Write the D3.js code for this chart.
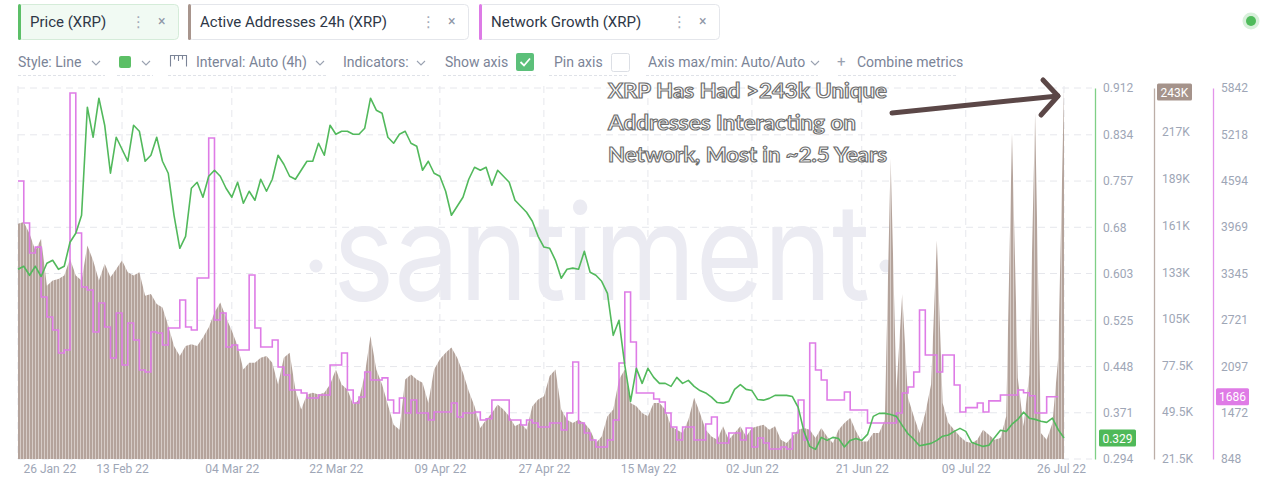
<!DOCTYPE html>
<html><head><meta charset="utf-8">
<script src="https://cdn.jsdelivr.net/npm/d3@7"></script>
<style>
html,body{margin:0;padding:0;background:#fff;}
svg{display:block;font-family:Roboto,"Noto Sans",sans-serif;}
</style></head><body>
<svg id="chart" width="1280" height="487"></svg>
<script>
// ---------- DATA ----------
const startDate = "2022-01-26";
const endDate = "2022-07-26";
// Price (XRP), daily
const priceValues = [
0.61,0.615,0.60,0.615,0.598,0.62,0.625,0.61,0.615,0.655,
0.67,0.70,0.88,0.83,0.895,0.85,0.77,0.83,0.81,0.79,
0.85,0.84,0.79,0.80,0.83,0.79,0.77,0.70,0.645,0.665,
0.745,0.755,0.73,0.765,0.775,0.765,0.745,0.73,0.755,0.72,
0.74,0.725,0.76,0.74,0.76,0.80,0.785,0.765,0.76,0.775,
0.79,0.79,0.82,0.80,0.85,0.835,0.84,0.84,0.835,0.835,
0.845,0.895,0.875,0.87,0.83,0.82,0.835,0.84,0.82,0.815,
0.775,0.79,0.77,0.765,0.74,0.70,0.715,0.73,0.76,0.78,
0.775,0.78,0.75,0.775,0.765,0.755,0.725,0.715,0.705,0.69,
0.665,0.647,0.645,0.625,0.595,0.61,0.612,0.61,0.64,0.605,
0.60,0.59,0.57,0.50,0.525,0.45,0.39,0.445,0.42,0.445,
0.43,0.42,0.42,0.415,0.43,0.42,0.425,0.415,0.408,0.404,
0.397,0.388,0.387,0.39,0.41,0.418,0.41,0.408,0.393,0.392,
0.395,0.40,0.40,0.40,0.398,0.38,0.34,0.315,0.31,0.33,
0.325,0.33,0.328,0.314,0.325,0.328,0.325,0.335,0.365,0.37,
0.37,0.368,0.365,0.35,0.336,0.327,0.316,0.318,0.32,0.325,
0.332,0.334,0.34,0.345,0.34,0.322,0.318,0.315,0.317,0.33,
0.342,0.34,0.352,0.36,0.372,0.362,0.36,0.357,0.355,0.362,
0.343,0.329];
// Active Addresses 24h (XRP), thousands, daily
const activeAddressesK = [
162,163,156,146,153,125,128,129,131,141,
131,128,149,140,128,138,130,135,140,133,
131,133,119,120,114,112,101,89,83,89,
90,89,94,100,109,115,106,98,89,75,
79,79,82,83,79,66,82,85,63,51,
60,61,60,61,66,75,66,63,54,57,
72,95,75,66,54,42,39,69,72,69,
67,55,75,81,85,88,82,73,62,53,
40,45,49,54,51,47,41,43,39,53,
57,59,71,75,51,45,43,45,43,39,
31,35,47,51,69,75,55,53,49,47,
55,55,51,41,39,37,45,58,49,39,
35,33,41,33,37,41,35,40,41,42,
39,41,33,31,35,39,40,39,34,40,
35,31,39,43,46,38,32,32,37,37,
45,201,62,120,58,47,37,49,66,152,
55,43,39,35,32,31,33,39,36,33,
34,47,216,70,41,72,228,37,33,43,
82,243];
// Network Growth (XRP), daily
const networkGrowth = [
4590,4025,3621,3700,3029,2760,2585,2275,2315,5775,
3890,3163,3123,2557,2948,2625,2207,2813,2113,2679,
2450,2046,2019,2557,2544,2382,2611,2611,2988,2625,
2585,3284,3284,5169,2719,2813,2355,2382,2315,2315,
3325,2611,2355,2355,2450,2086,1979,1777,1777,1736,
1669,1669,1709,1709,2113,2113,2275,1777,1602,1683,
2019,1911,1911,1940,1642,1467,1669,1467,1642,1467,
1467,1373,1480,1480,1480,1602,1413,1467,1467,1480,
1373,1390,1642,1642,1642,1373,1373,1306,1373,1333,
1279,1279,1333,1333,1238,1467,2154,1333,1198,1104,
1010,1010,1104,1373,2140,3096,2423,1736,1736,1736,
1655,1615,1467,1279,1104,1279,1279,1104,1104,1320,
1413,1063,1063,1198,1198,1104,1265,1010,1130,1063,
983,983,1010,983,1198,1642,1104,2409,2046,1911,
1642,1642,1642,1750,1508,1508,1508,1333,1333,1333,
1333,1333,1467,1736,1817,2019,2854,2248,2248,2019,
2248,2248,1844,1481,1540,1540,1602,1481,1630,1630,
1709,1709,1709,1777,1740,1700,1467,1467,1686,1686,
1686];
const dateTicks = ["2022-01-26","2022-02-13","2022-03-04","2022-03-22","2022-04-09","2022-04-27","2022-05-15","2022-06-02","2022-06-21","2022-07-09","2022-07-26"];
const priceTicks = [0.294,0.371,0.448,0.525,0.603,0.68,0.757,0.834,0.912];
const addressTicks = [21.5,49.5,77.5,105,133,161,189,217,243];
const growthTicks = [848,1472,2097,2721,3345,3969,4594,5218,5842];
const tabLabels = ["Price (XRP)","Active Addresses 24h (XRP)","Network Growth (XRP)"];
const annotationLines = ["XRP Has Had >243k Unique","Addresses Interacting on","Network, Most in ~2.5 Years"];
const watermark = "santiment";

// ---------- COLOURS ----------
const GREEN = "#52b95c", PINK = "#de7ce6", AXIS_TXT = "#9ea6b6";

const svg = d3.select("#chart");
const parse = d3.utcParse("%Y-%m-%d");
const t0 = parse(startDate);
const dayAt = i => d3.utcDay.offset(t0, i);

const x = d3.scaleUtc().domain([t0, parse(endDate)]).range([18, 1064]);
const yP = d3.scaleLinear().domain([0.294, 0.912]).range([459, 88]);
const yA = d3.scaleLinear().domain([21.5, 243]).range([459, 88]);
const yN = d3.scaleLinear().domain([848, 5842]).range([459, 88]);

// bar texture pattern for the active-address histogram
const defs = svg.append("defs");
const pat = defs.append("pattern").attr("id", "barTex").attr("patternUnits", "userSpaceOnUse")
  .attr("width", 3).attr("height", 10);
pat.append("rect").attr("width", 3).attr("height", 10).attr("fill", "#d6ccc7");
pat.append("rect").attr("width", 2).attr("height", 10).attr("fill", "#b4a39b");

// ---------- GRID ----------
const grid = svg.append("g");
grid.selectAll("line.h").data(priceTicks).join("line")
  .attr("x1", 18).attr("x2", 1092)
  .attr("y1", d => yP(d)).attr("y2", d => yP(d))
  .attr("stroke", "#e6e7ec").attr("stroke-dasharray", "7,5");
grid.selectAll("line.v").data(dateTicks).join("line")
  .attr("x1", d => x(parse(d))).attr("x2", d => x(parse(d)))
  .attr("y1", 86).attr("y2", 459)
  .attr("stroke", "#e6e7ec").attr("stroke-dasharray", "7,5");

// ---------- WATERMARK ----------
const wm = svg.append("g").attr("fill", "#ebebf2");
wm.append("text").attr("x", 333).attr("y", 300)
  .attr("font-family", "Inter, 'Noto Sans', sans-serif").attr("font-size", 134)
  .attr("textLength", 537).attr("lengthAdjust", "spacingAndGlyphs")
  .text(watermark);
wm.append("circle").attr("cx", 316).attr("cy", 266).attr("r", 6.5);
wm.append("circle").attr("cx", 886).attr("cy", 266).attr("r", 6.5);

// ---------- SERIES ----------
const addrData = activeAddressesK.map((v, i) => ({ date: dayAt(i), v }));
const priceData = priceValues.map((v, i) => ({ date: dayAt(i), v }));
const growthData = networkGrowth.map((v, i) => ({ date: dayAt(i), v }));

svg.append("path").datum(addrData)
  .attr("fill", "url(#barTex)")
  .attr("d", d3.area().x(d => x(d.date)).y0(yA.range()[0]).y1(d => yA(d.v)));

svg.append("path").datum(growthData)
  .attr("fill", "none").attr("stroke", PINK).attr("stroke-width", 1.6)
  .attr("d", d3.line().curve(d3.curveStepAfter).x(d => x(d.date)).y(d => yN(d.v)));

svg.append("path").datum(priceData)
  .attr("fill", "none").attr("stroke", GREEN).attr("stroke-width", 1.6)
  .attr("stroke-linejoin", "round")
  .attr("d", d3.line().x(d => x(d.date)).y(d => yP(d.v)));

// ---------- X AXIS LABELS ----------
const fmt = d3.utcFormat("%d %b %y");
const xAxis = svg.append("g").attr("transform", "translate(0,457)")
  .call(d3.axisBottom(x).tickValues(dateTicks.map(parse)).tickFormat(fmt).tickSize(0).tickPadding(7));
xAxis.select(".domain").remove();
xAxis.selectAll("text").attr("fill", AXIS_TXT).attr("font-size", 12).attr("font-family", "Roboto, sans-serif");
xAxis.selectAll(".tick").filter((d, i) => i === 0).select("text").attr("text-anchor", "start").attr("dx", 5);
xAxis.selectAll(".tick").filter((d, i) => i === dateTicks.length - 1).select("text").attr("dx", -3);

// ---------- RIGHT AXES ----------
function rightAxis(scale, ticks, fmtFn, xPos, color) {
  const g = svg.append("g").attr("transform", `translate(${xPos},0)`)
    .call(d3.axisRight(scale).tickValues(ticks).tickFormat(fmtFn).tickSize(0).tickPadding(8));
  g.select(".domain").attr("stroke", color).attr("stroke-width", 1.3);
  g.selectAll("text").attr("fill", AXIS_TXT).attr("font-size", 12).attr("font-family", "Roboto, sans-serif");
  return g;
}
rightAxis(yP, priceTicks, d => String(d), 1095, "#7fcf86");
const addrAxis = rightAxis(yA, addressTicks, d => d + "K", 1154, "#bcaea7");
rightAxis(yN, growthTicks, d => String(d), 1213, "#e394ea");

function valueBox(xPos, yPos, w, label, fill) {
  const g = svg.append("g").attr("transform", `translate(${xPos},${yPos})`);
  g.append("rect").attr("x", 0).attr("y", -8.5).attr("width", w).attr("height", 17).attr("rx", 1.5).attr("fill", fill);
  g.append("text").attr("x", w / 2).attr("y", 0.5).attr("dy", "0.35em").attr("text-anchor", "middle")
    .attr("fill", "#fff").attr("font-size", 12).attr("font-family", "Roboto, sans-serif").text(label);
}
const lastPrice = priceValues[priceValues.length - 1];
const lastAddr = activeAddressesK[activeAddressesK.length - 1];
const lastGrowth = networkGrowth[networkGrowth.length - 1];
// the current-value badge sits on top of the highest address tick label
addrAxis.selectAll(".tick").filter(d => d === lastAddr).select("text").remove();
valueBox(1099, yP(lastPrice), 37, String(lastPrice), "#4fb959");
valueBox(1157, Math.max(yA(lastAddr) + 4, 92), 35, lastAddr + "K", "#a5938b");
valueBox(1216, yN(lastGrowth), 33, String(lastGrowth), "#df7be6");

// ---------- ANNOTATION ----------
const ann = svg.append("g");
const lineLens = [279, 248, 279];
annotationLines.forEach((t, i) => {
  ann.append("text").attr("x", 608).attr("y", 98 + i * 32)
    .attr("font-family", "Lato, 'Noto Sans', sans-serif").attr("font-weight", 700).attr("font-size", 20)
    .attr("textLength", lineLens[i]).attr("lengthAdjust", "spacingAndGlyphs")
    .attr("fill", "#ffffff").attr("stroke", "#6e6e6e").attr("stroke-width", 1.1)
    .text(t);
});
const tipX = x(parse(endDate)) - 6, tipY = yA(lastAddr) + 8;
ann.append("path").attr("d", `M892,113 L${tipX},${tipY}`)
  .attr("stroke", "#5b4747").attr("stroke-width", 5).attr("stroke-linecap", "round").attr("fill", "none");
ann.append("path").attr("d", `M${tipX - 15},${tipY - 16} L${tipX},${tipY} L${tipX - 17},${tipY + 19}`)
  .attr("stroke", "#5b4747").attr("stroke-width", 5).attr("stroke-linecap", "round").attr("stroke-linejoin", "round").attr("fill", "none");

// ---------- TOOLBAR ----------
const tb = svg.append("g");
const tabX = [18, 188, 479], tabW = [160, 280, 240];
const tabColors = ["#5cbf68", "#a8958d", "#dd7be6"];
const tabFill = ["#f1faf3", "#ffffff", "#ffffff"];
const tabStroke = ["#d5ecd9", "#e4e6eb", "#e4e6eb"];
tabLabels.forEach((lbl, i) => {
  const g = tb.append("g").attr("transform", `translate(${tabX[i]},4)`);
  g.append("rect").attr("x", 0.5).attr("y", 0.5).attr("width", tabW[i]).attr("height", 35).attr("rx", 4)
    .attr("fill", tabFill[i]).attr("stroke", tabStroke[i]);
  g.append("rect").attr("x", 0).attr("y", 0).attr("width", 3).attr("height", 36).attr("rx", 1.5).attr("fill", tabColors[i]);
  g.append("text").attr("x", 12).attr("y", 23).attr("font-size", 15).attr("fill", "#2e3747").text(lbl);
  g.append("text").attr("x", tabW[i] - 47).attr("y", 23).attr("font-size", 15).attr("fill", "#a3aab8").attr("font-family", "'DejaVu Sans', sans-serif").text("⋮");
  g.append("text").attr("x", tabW[i] - 20).attr("y", 22).attr("font-size", 14).attr("fill", "#8f97a7").text("×");
});

const rowY = 67, GREY = "#7b8497";
function chev(cx) {
  tb.append("path").attr("d", `M${cx - 4},${rowY - 6} L${cx},${rowY - 2} L${cx + 4},${rowY - 6}`)
    .attr("stroke", "#9aa2b1").attr("stroke-width", 1.1).attr("fill", "none");
}
function txt(xp, s) { tb.append("text").attr("x", xp).attr("y", rowY).attr("font-size", 14).attr("fill", GREY).text(s); }
function dash(x1, x2) {
  tb.append("line").attr("x1", x1).attr("x2", x2).attr("y1", 75.5).attr("y2", 75.5)
    .attr("stroke", "#dfe2e8").attr("stroke-dasharray", "3,2");
}
txt(18, "Style: Line"); chev(96); dash(18, 105);
tb.append("rect").attr("x", 119).attr("y", 56).attr("width", 12).attr("height", 12).attr("rx", 2).attr("fill", "#5cbf66");
chev(146); dash(117, 153);
// ruler icon
tb.append("path").attr("d", "M170.5,66.5 V55.5 H186.5 V66.5 M174.5,55.5 V59.5 M178.5,55.5 V61 M182.5,55.5 V59.5")
  .attr("stroke", "#7b8497").attr("stroke-width", 1.1).attr("fill", "none");
txt(196, "Interval: Auto (4h)"); chev(320); dash(168, 327);
txt(343, "Indicators:"); chev(421); dash(342, 429);
txt(445, "Show axis");
tb.append("rect").attr("x", 516).attr("y", 53).attr("width", 18).attr("height", 18).attr("rx", 2).attr("fill", "#5cc07a");
tb.append("path").attr("d", "M520.5,62 L524,65.5 L530,58.5").attr("stroke", "#fff").attr("stroke-width", 1.8).attr("fill", "none");
dash(443, 536);
txt(554, "Pin axis");
tb.append("rect").attr("x", 611.5).attr("y", 53.5).attr("width", 18).attr("height", 18).attr("rx", 2).attr("fill", "#fff").attr("stroke", "#dcdfe5");
dash(549, 629);
txt(648, "Axis max/min: Auto/Auto"); chev(815); dash(646, 818);
tb.append("text").attr("x", 837).attr("y", rowY).attr("font-size", 15).attr("fill", "#9aa2b1").text("+");
txt(857, "Combine metrics"); dash(838, 957);

// status dot
svg.append("circle").attr("cx", 1251).attr("cy", 21).attr("r", 8.5).attr("fill", "#d8f0db");
svg.append("circle").attr("cx", 1251).attr("cy", 21).attr("r", 5).attr("fill", "#4fbb5b");
</script>
</body></html>
